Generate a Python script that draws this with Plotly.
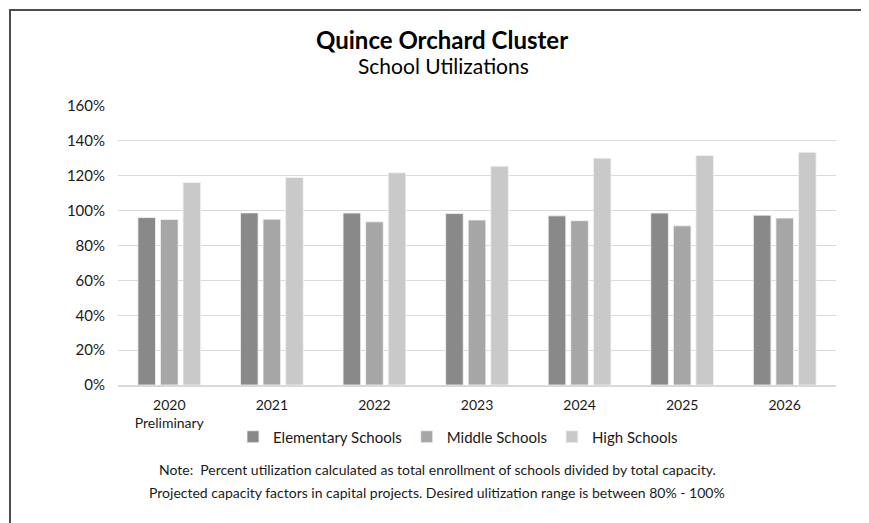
import plotly.graph_objects as go

years = ["2020<br>Preliminary", "2021", "2022", "2023", "2024", "2025", "2026"]
elementary = [96.0, 98.7, 98.6, 98.3, 97.0, 98.6, 97.4]
middle = [94.9, 95.1, 93.6, 94.6, 94.2, 91.3, 95.7]
high = [116.1, 119.0, 121.7, 125.5, 130.1, 131.6, 133.5]
y_ticks = [0, 20, 40, 60, 80, 100, 120, 140, 160]
y_labels = [f"{v}%" for v in y_ticks]

FONT = "Lato"
TXT = "#1a1a1a"
OFF = 8  # browser default body margin

fig = go.Figure()
for name, vals, col in [("Elementary Schools", elementary, "#898989"),
                        ("Middle Schools", middle, "#a6a6a6"),
                        ("High Schools", high, "#c9c9c9")]:
    fig.add_trace(go.Bar(x=years, y=vals, name=name,
                         marker=dict(color=col, line=dict(color="#f4f4f4", width=0.8))))

# plot area in page pixels: x 118..836, y 106..385
def py(p):
    return (385 - p) / 279.0

def px(p):
    return (p - 118) / 718.0

fig.update_layout(
    width=869 - OFF, height=523 - OFF,
    margin=dict(l=118 - OFF, r=(869 - OFF) - (836 - OFF), t=106 - OFF, b=(523 - OFF) - (385 - OFF)),
    paper_bgcolor="white", plot_bgcolor="white",
    font=dict(family=FONT, color=TXT, size=14),
    barmode="group", bargap=0.34, bargroupgap=0.22,
    showlegend=True,
    legend=dict(orientation="h", x=px(458), xanchor="center", y=py(437), yanchor="middle",
                font=dict(size=15, color=TXT), itemwidth=30, traceorder="normal"),
    xaxis=dict(showgrid=False, showline=True, linecolor="#d9d9d9", linewidth=2,
               tickfont=dict(size=14, color=TXT), ticklabelstandoff=6, fixedrange=True),
    yaxis=dict(range=[0, 160], tickmode="array", tickvals=y_ticks, ticktext=y_labels,
               showgrid=True, gridcolor="#d9d9d9", gridwidth=1, zeroline=False, showline=False,
               tickfont=dict(size=15, color=TXT), ticklabelstandoff=12, fixedrange=True),
    annotations=[
        dict(text="<b>Quince Orchard Cluster</b>", xref="paper", yref="paper",
             x=px(442), y=py(39), xanchor="center", yanchor="middle", showarrow=False,
             font=dict(size=24, color="#000000", family=FONT)),
        dict(text="School Utilizations", xref="paper", yref="paper",
             x=px(443), y=py(66), xanchor="center", yanchor="middle", showarrow=False,
             font=dict(size=21, color="#000000", family=FONT)),
        dict(text="Note:  Percent utilization calculated as total enrollment of schools divided by total capacity.",
             xref="paper", yref="paper", x=px(437), y=py(469), xanchor="center", yanchor="middle",
             showarrow=False, font=dict(size=14, color=TXT, family=FONT)),
        dict(text="Projected capacity factors in capital projects. Desired ulitization range is between 80% - 100%",
             xref="paper", yref="paper", x=px(437), y=py(492), xanchor="center", yanchor="middle",
             showarrow=False, font=dict(size=14, color=TXT, family=FONT)),
    ],
    shapes=[
        dict(type="rect", xref="paper", yref="paper",
             x0=px(10), x1=px(864), y0=py(560), y1=py(10),
             line=dict(color="#4d4d4d", width=2), fillcolor="rgba(0,0,0,0)", layer="below"),
    ],
)

fig.write_html("out.html")
